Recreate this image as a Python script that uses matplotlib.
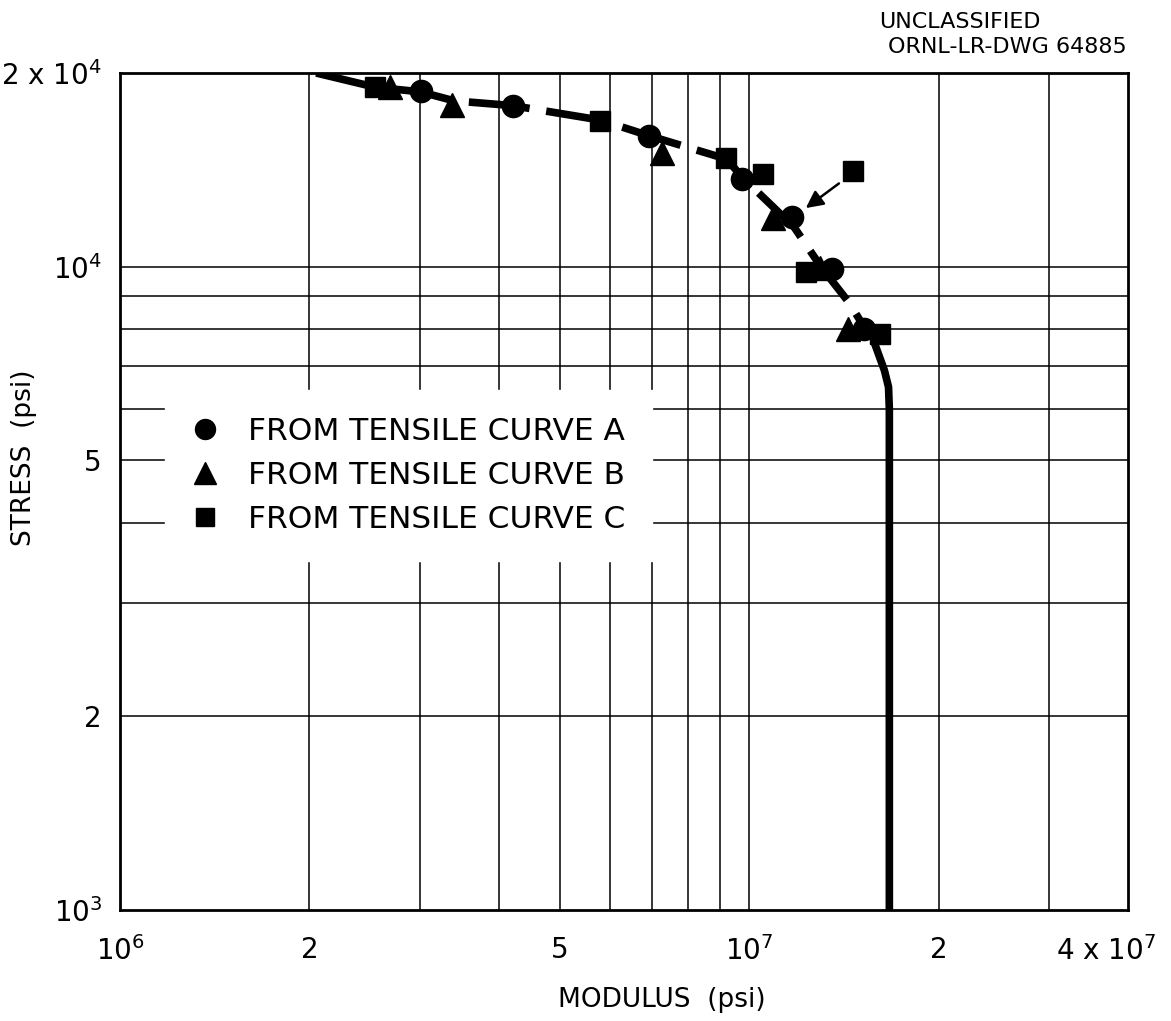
#!/usr/bin/env python3
"""Stress vs modulus (ORNL-LR-DWG 64885) redrawn on log-log axes."""

import matplotlib
matplotlib.use("Agg")
import matplotlib.pyplot as plt
from matplotlib.transforms import ScaledTranslation

# points (modulus psi, stress psi)
curve_a_x = [3.01e6, 4.21e6, 6.93e6, 9.75e6, 1.17e7, 1.355e7, 1.523e7]
curve_a_y = [1.878e4, 1.78e4, 1.598e4, 1.37e4, 1.196e4, 9.93e3, 8.01e3]

curve_b_x = [2.69e6, 3.37e6, 7.27e6, 1.092e7, 1.297e7, 1.437e7]
curve_b_y = [1.90e4, 1.786e4, 1.504e4, 1.19e4, 9.95e3, 8.0e3]

curve_c_x = [2.54e6, 5.80e6, 9.19e6, 1.053e7, 1.463e7, 1.232e7, 1.616e7]
curve_c_y = [1.90e4, 1.687e4, 1.477e4, 1.395e4, 1.41e4, 9.8e3, 7.87e3]

# faired curve: dashed part through the points, solid part down to the axis
dash_x = [2.05e6, 2.55e6, 3.0e6, 3.4e6, 4.2e6, 5.8e6, 6.9e6, 9.2e6, 9.8e6,
          1.09e7, 1.18e7, 1.30e7, 1.44e7, 1.53e7]
dash_y = [2.0e4, 1.9e4, 1.87e4, 1.81e4, 1.78e4, 1.69e4, 1.60e4, 1.47e4, 1.37e4,
          1.24e4, 1.15e4, 1.0e4, 8.8e3, 8.0e3]
solid_x = [1.59e7, 1.64e7, 1.665e7, 1.67e7, 1.67e7]
solid_y = [7.5e3, 6.9e3, 6.5e3, 6.0e3, 1.0e3]

# arrow from the stray square to the circle it belongs with
arrow_from = (1.40e7, 1.355e4)
arrow_to = (1.22e7, 1.226e4)

grid_x = [2e6, 3e6, 4e6, 5e6, 6e6, 7e6, 8e6, 9e6, 1e7, 2e7, 3e7]
grid_y = [2e3, 3e3, 4e3, 5e3, 6e3, 7e3, 8e3, 9e3, 1e4]

xtick_vals = [1e6, 2e6, 5e6, 1e7, 2e7, 4e7]
xtick_labels = [r"10$^{6}$", "2", "5", r"10$^{7}$", "2", r"4 x 10$^{7}$"]
ytick_vals = [1e3, 2e3, 5e3, 1e4, 2e4]
ytick_labels = [r"10$^{3}$", "2", "5", r"10$^{4}$", r"2 x 10$^{4}$"]

legend_labels = ["FROM TENSILE CURVE A", "FROM TENSILE CURVE B", "FROM TENSILE CURVE C"]


def main():
    plt.rcParams["font.family"] = "DejaVu Sans"
    plt.rcParams["mathtext.default"] = "regular"

    fig = plt.figure(figsize=(11.71, 10.21), dpi=100)
    ax = fig.add_axes([0.1025, 0.1087, 0.8608, 0.8198])
    ax.set_xscale("log")
    ax.set_yscale("log")
    ax.set_xlim(1e6, 4e7)
    ax.set_ylim(1e3, 2e4)

    for gx in grid_x:
        ax.axvline(gx, color="black", lw=1.1, zorder=1)
    for gy in grid_y:
        ax.axhline(gy, color="black", lw=1.1, zorder=1)

    ax.plot(dash_x, dash_y, color="black", lw=5.5, dashes=(8, 2.2),
            solid_capstyle="butt", zorder=3)
    ax.plot(solid_x, solid_y, color="black", lw=5.5, zorder=3)

    ax.plot(curve_a_x, curve_a_y, "o", color="black", ms=16, ls="none",
            label=legend_labels[0], zorder=4)
    ax.plot(curve_b_x, curve_b_y, "^", color="black", ms=17, ls="none",
            label=legend_labels[1], zorder=4)
    ax.plot(curve_c_x, curve_c_y, "s", color="black", ms=14, ls="none",
            label=legend_labels[2], zorder=4)

    ax.annotate("", xy=arrow_to, xytext=arrow_from,
                arrowprops=dict(arrowstyle="-|>", color="black", lw=1.8,
                                mutation_scale=26))

    leg = ax.legend(loc="upper left", bbox_to_anchor=(0.0446, 0.621), fontsize=22.5,
                    frameon=True, facecolor="white", edgecolor="white",
                    framealpha=1, fancybox=False, markerscale=0.9,
                    handlelength=0.83, handletextpad=0.96, labelspacing=0.48,
                    borderpad=0.86, borderaxespad=0)
    leg.set_zorder(5)

    ax.xaxis.set_minor_locator(matplotlib.ticker.NullLocator())
    ax.yaxis.set_minor_locator(matplotlib.ticker.NullLocator())
    ax.set_xticks(xtick_vals)
    ax.set_xticklabels(xtick_labels)
    ax.set_yticks(ytick_vals)
    ax.set_yticklabels(ytick_labels)
    ax.tick_params(length=0, labelsize=20)
    ax.tick_params(axis="x", pad=19)
    ax.tick_params(axis="y", pad=13)

    # the right-hand "4 x 10^7" sits a little left of its tick in the drawing
    last = ax.get_xticklabels()[-1]
    last.set_transform(last.get_transform() + ScaledTranslation(-0.22, 0, fig.dpi_scale_trans))

    for sp in ax.spines.values():
        sp.set_linewidth(2)

    ax.set_xlabel("MODULUS  (psi)", fontsize=19)
    ax.xaxis.set_label_coords(0.537, -0.092)
    ax.set_ylabel("STRESS  (psi)", fontsize=19)
    ax.yaxis.set_label_coords(-0.082, 0.54)

    fig.text(0.82, 0.978, "UNCLASSIFIED", ha="center", va="center", fontsize=16)
    fig.text(0.9625, 0.954, "ORNL-LR-DWG 64885", ha="right", va="center", fontsize=16)

    fig.savefig("out.png", dpi=100)
    plt.close(fig)


if __name__ == "__main__":
    main()
